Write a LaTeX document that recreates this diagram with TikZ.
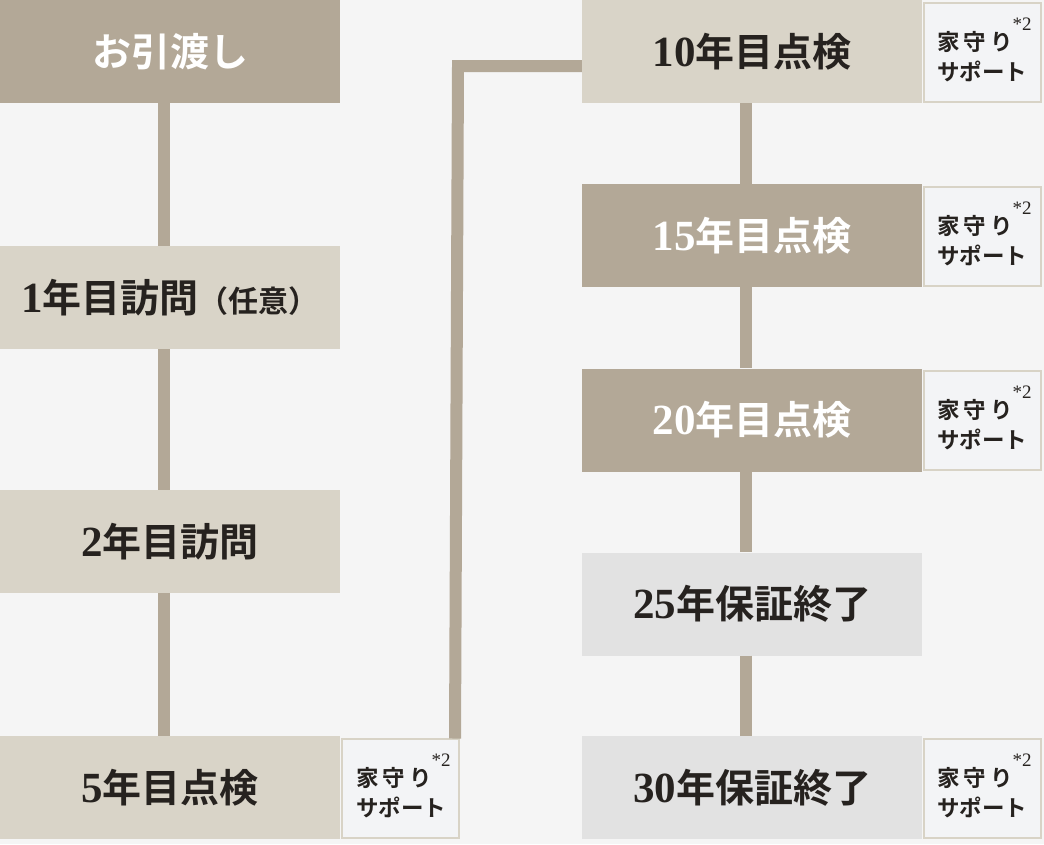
\documentclass[tikz,border=0pt]{standalone}
\usepackage{fontspec}
\newfontfamily\jp{Noto Sans CJK JP}
\newfontfamily\jpb{Noto Sans CJK JP Bold}
\newfontfamily\dig{Liberation Serif}
\definecolor{bgc}{HTML}{F5F5F5}
\definecolor{darkc}{HTML}{B3A897}
\definecolor{lightc}{HTML}{D9D4C8}
\definecolor{greyc}{HTML}{E2E2E2}
\definecolor{smallc}{HTML}{F3F4F6}
\definecolor{smallb}{HTML}{D8D3C6}
\definecolor{inkc}{HTML}{26221F}
\newcommand{\dg}[1]{{\dig\bfseries\fontsize{43}{43}\selectfont #1}}
\newcommand{\ymsup}{家\kern4pt 守\kern4pt り\rlap{\smash{\raisebox{20pt}{\dig\fontsize{19}{19}\selectfont *2}}}\\サポート}
\tikzset{
  mainbox/.style={rectangle, inner sep=0pt, minimum width=340pt, minimum height=103pt, font=\jpb\fontsize{39}{39}\selectfont},
  darkbox/.style={mainbox, fill=darkc, text=white},
  lightbox/.style={mainbox, fill=lightc, text=inkc},
  greybox/.style={mainbox, fill=greyc, text=inkc},
  supbox/.style={rectangle, inner sep=0pt, minimum width=117pt, minimum height=99pt, fill=smallc, draw=smallb, line width=2pt},
  suptext/.style={inner sep=0pt, align=left, text=inkc, anchor=west, font=\jpb\fontsize{22.5}{30}\selectfont},
  conn/.style={draw=darkc, line width=12pt, miter limit=10}
}
\begin{document}
\begin{tikzpicture}[x=1pt,y=-1pt]
\useasboundingbox (0,0) rectangle (1044,844);
\fill[bgc] (0,0) rectangle (1044,844);
% left column
\node[darkbox]  (a0) at (170,51.5) {お引渡し};
\node[lightbox] (a1) at (170,297.5) {\dg{1}年目訪問{\fontsize{30}{30}\selectfont （任意）}};
\node[lightbox] (a2) at (170,541.5) {\dg{2}年目訪問};
\node[lightbox] (a5) at (170,787.5) {\dg{5}年目点検};
\node[supbox]   (s5) at (400.5,788) {};
\node[suptext]  (t5) at (356,793) {\ymsup};
% right column
\node[lightbox] (b10) at (752,51.5) {\dg{10}年目点検};
\node[supbox]   (s10) at (982.5,52) {};
\node[suptext]  (t10) at (937,57) {\ymsup};
\node[darkbox]  (b15) at (752,235.5) {\dg{15}年目点検};
\node[supbox]   (s15) at (982.5,236) {};
\node[suptext]  (t15) at (937,241) {\ymsup};
\node[darkbox]  (b20) at (752,420) {\dg{20}年目点検};
\node[supbox]   (s20) at (982.5,420) {};
\node[suptext]  (t20) at (937,425) {\ymsup};
\node[greybox]  (b25) at (752,604) {\dg{25}年保証終了};
\node[greybox]  (b30) at (752,787.5) {\dg{30}年保証終了};
\node[supbox]   (s30) at (982.5,788) {};
\node[suptext]  (t30) at (937,793) {\ymsup};
% connectors
\draw[conn] ([xshift=-6pt]a0.south) -- ([xshift=-6pt]a1.north);
\draw[conn] ([xshift=-6pt]a1.south) -- ([xshift=-6pt]a2.north);
\draw[conn] ([xshift=-6pt]a2.south) -- ([xshift=-6pt]a5.north);
\draw[conn] ([xshift=-6pt]b10.south) -- ([xshift=-6pt]b15.north);
\draw[conn] ([xshift=-6pt]b15.south) -- ([xshift=-6pt]b20.north);
\draw[conn] ([xshift=-6pt]b20.south) -- ([xshift=-6pt]b25.north);
\draw[conn] ([xshift=-6pt]b25.south) -- ([xshift=-6pt]b30.north);
\coordinate (k) at (458,66);
\draw[conn] ([xshift=-5pt,yshift=-1pt]s5.north east) -- (k) -- (k -| b10.west);
\end{tikzpicture}
\end{document}
